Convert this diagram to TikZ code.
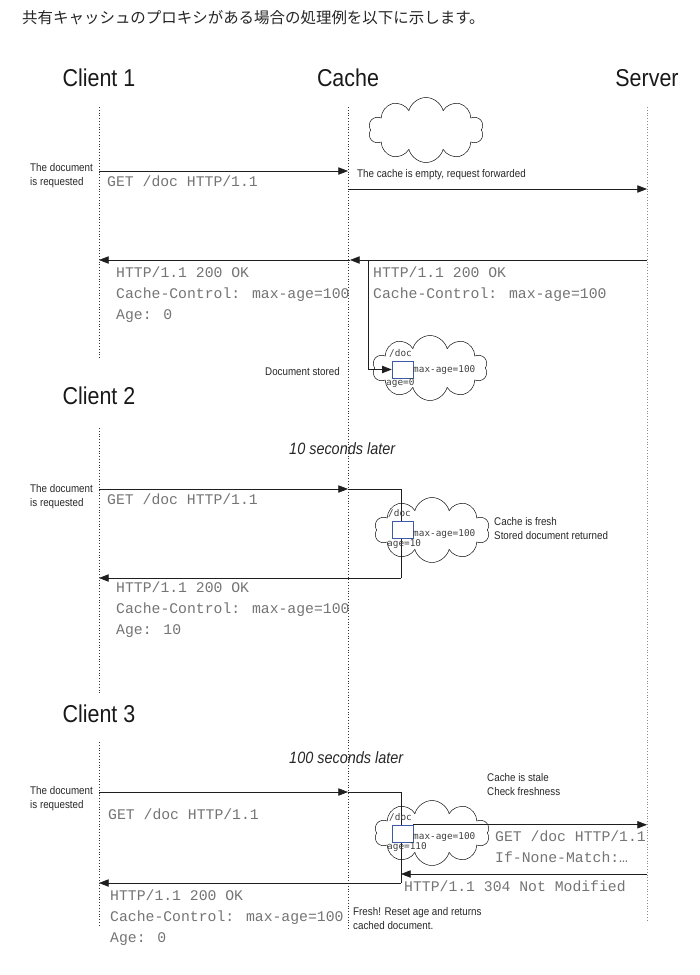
\documentclass[tikz,border=0pt]{standalone}
\usepackage{fontspec}
\usepackage{xcolor}
\setmainfont{Liberation Sans}
\newfontfamily\narrowsf{Liberation Sans}[FakeStretch=0.88]
\newfontfamily\httpfont{Liberation Mono}
\newfontfamily\tagfont{DejaVu Sans Mono}
\newfontfamily\jpfont{Noto Sans CJK JP}
\usetikzlibrary{arrows.meta,positioning,shapes.symbols}
\definecolor{httpgray}{HTML}{747474}
\definecolor{boxblue}{HTML}{3D5AA6}
\definecolor{linegray}{HTML}{1E1E1E}
\tikzset{%
	title/.style    = {font=\jpfont\fontsize{13.2}{15}\selectfont, text=black!85, anchor=base west, inner sep=0},
	actor/.style    = {font=\narrowsf\fontsize{20.8}{24}\selectfont, text=black!90, anchor=base, inner sep=0},
	lifeline/.style = {dotted, thin, black!80},
	msg/.style      = {line width=0.6pt, linegray, -{Triangle[length=2.9mm,width=2.2mm]}},
	wire/.style     = {line width=0.6pt, linegray},
	note/.style     = {font=\narrowsf\fontsize{9.5}{11.5}\selectfont, text=black!85, align=left, anchor=base west, inner sep=0},
	later/.style    = {font=\narrowsf\itshape\fontsize{14}{16}\selectfont, text=black!85, anchor=base west, inner sep=0},
	http/.style     = {font=\httpfont\fontsize{12.6}{17.8}\selectfont, text=httpgray, align=left, anchor=base west, inner sep=0},
	tag/.style      = {font=\tagfont\fontsize{8}{9}\selectfont, text=black!75, anchor=base west, inner sep=0},
	store/.style    = {draw, thin, cloud, cloud puffs=10, aspect=1.8, minimum width=34.5mm, minimum height=19.5mm, inner sep=0},
	docbox/.style   = {draw=boxblue, thin, fill=white, minimum width=6.3mm, minimum height=5.1mm, inner sep=0},
}

\begin{document}
\begin{tikzpicture}[x=0.03cm,y=-0.03cm]
	\useasboundingbox (0,0) rectangle (700,975);
	
	\node[title] (ttl) at (22,23) {共有キャッシュのプロキシがある場合の処理例を以下に示します。};
	
	% actors and lifelines
	\node[actor] (client1) at (99,86) {Client 1};
	\node[actor] (cache) at (348,86) {Cache};
	\node[actor] (server) at (647,86) {Server};
	\node[actor] (client2) at (99,404) {Client 2};
	\node[actor] (client3) at (99,722) {Client 3};
	
	\coordinate (c1top) at (99,107);
	\coordinate (c1bot) at (99,358);
	\coordinate (cchtop) at (348,107);
	\coordinate (cchbot) at (348,930);
	\coordinate (srvtop) at (647,107);
	\coordinate (srvbot) at (647,922);
	\coordinate (c2top) at (99,428);
	\coordinate (c2bot) at (99,693);
	\coordinate (c3top) at (99,742);
	\coordinate (c3bot) at (99,925);
	
	\draw[lifeline] (c1top) -- (c1bot);
	\draw[lifeline] (cchtop) -- (cchbot);
	\draw[lifeline,black!45] (srvtop) -- (srvbot);
	\draw[lifeline] (c2top) -- (c2bot);
	\draw[lifeline] (c3top) -- (c3bot);
	
	% client 1 (multi-line nodes sit on their last line)
	\node[store] (empty) at (426,130) {};
	\node[note] (req1) at (30,185) {The document\\is requested};
	\node[http] (get1) at (107,186.5) {GET /doc HTTP/1.1};
	\node[note] (fwd) at (357,177) {The cache is empty, request forwarded};
	\node[http] (resp1) at (116,319.5) {HTTP/1.1 200 OK\\Cache-Control: max-age=100\\Age: 0};
	\node[http] (sresp1) at (373,298.5) {HTTP/1.1 200 OK\\Cache-Control: max-age=100};
	
	\node[store] (store1) at (430,368) {};
	\node[docbox] (doc1) at (402.5,369.5) {};
	\node[tag] at (389,356.5) {/doc};
	\node[tag] at (413,372.5) {max-age=100};
	\node[tag] at (386,385.5) {age=0};
	\node[note,anchor=base east] (stored) at (340,375) {Document stored};
	
	\coordinate (a1) at (99,171);
	\coordinate (b1) at (348,171);
	\coordinate (b1f) at (348,189);
	\coordinate (s1) at (647,189);
	\coordinate (s1r) at (647,260);
	\coordinate (b1r) at (350,260);
	\coordinate (a1r) at (99,260);
	\coordinate (keep1) at (368,260);
	
	\draw[msg] (a1) -- (b1);
	\draw[msg] (b1f) -- (s1);
	\draw[msg] (s1r) -- (b1r);
	\draw[msg] (b1r) -- (a1r);
	\draw[msg] (keep1) |- (doc1.west);
	
	% client 2
	\coordinate (a2) at (99,489);
	\coordinate (b2) at (348,489);
	\coordinate (t2) at (401,489);
	\coordinate (u2) at (401,578);
	\coordinate (a2r) at (99,578);
	
	\draw[msg] (a2) -- (b2);
	\draw[wire] (b2) -- (t2) -- (u2);
	\draw[msg] (u2) -- (a2r);
	
	\node[later] (ten) at (289,454) {10 seconds later};
	\node[note] (req2) at (30,506) {The document\\is requested};
	\node[http] (get2) at (107,504.5) {GET /doc HTTP/1.1};
	\node[store] (store2) at (432,530) {};
	\node[docbox] (doc2) at (402.5,530) {};
	\node[tag] at (388,516.5) {/doc};
	\node[tag] at (413,536.5) {max-age=100};
	\node[tag] at (387,546.5) {age=10};
	\node[note] (fresh) at (494,539) {Cache is fresh\\Stored document returned};
	\node[http] (resp2) at (116,634.5) {HTTP/1.1 200 OK\\Cache-Control: max-age=100\\Age: 10};
	
	% client 3
	\coordinate (a3) at (99,792);
	\coordinate (b3) at (348,792);
	\coordinate (t3) at (401,792);
	\coordinate (u3) at (401,883);
	\coordinate (a3r) at (99,883);
	\coordinate (s3r) at (647,874);
	\coordinate (v3) at (401,874);
	
	\draw[msg] (a3) -- (b3);
	\draw[wire] (b3) -- (t3) -- (u3);
	\draw[msg] (u3) -- (a3r);
	
	\node[later] (hundred) at (289,763) {100 seconds later};
	\node[note] (req3) at (30,808) {The document\\is requested};
	\node[http] (get3) at (108,819.5) {GET /doc HTTP/1.1};
	\node[note] (stale) at (487,795) {Cache is stale\\Check freshness};
	\node[store] (store3) at (432,833) {};
	\node[docbox] (doc3) at (402.5,833.5) {};
	\node[tag] at (389,820.5) {/doc};
	\node[tag] at (413,839.5) {max-age=100};
	\node[tag] at (387,849.5) {age=110};
	\node[http] (cond) at (495,862.5) {GET /doc HTTP/1.1\\If-None-Match:…};
	\node[http] (nm) at (404,891.5) {HTTP/1.1 304 Not Modified};
	\node[http] (resp3) at (110,942.5) {HTTP/1.1 200 OK\\Cache-Control: max-age=100\\Age: 0};
	\node[note] (reset) at (353,929) {Fresh! Reset age and returns\\cached document.};
	
	\draw[msg] (doc3.north east) -- (doc3.north east -| srvbot);
	\draw[msg] (s3r) -- (v3);
\end{tikzpicture}
\end{document}
